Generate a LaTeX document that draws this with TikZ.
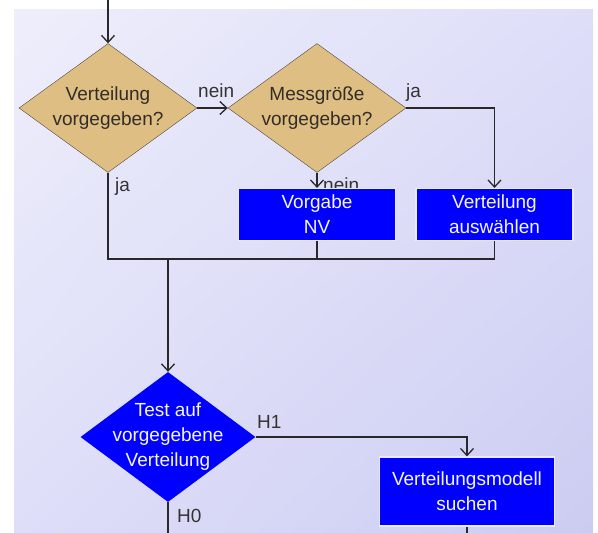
\documentclass[tikz,border=0pt]{standalone}
\usepackage{fontspec}
\setmainfont{Liberation Sans}
\usetikzlibrary{shapes.geometric,arrows.meta,shadings}

\definecolor{questionfill}{RGB}{222,190,130}
\definecolor{questionline}{RGB}{80,72,64}
\definecolor{questiontext}{RGB}{50,45,40}
\definecolor{stepblue}{RGB}{0,0,255}
\definecolor{stepline}{RGB}{235,235,255}
\definecolor{steptext}{RGB}{245,245,255}
\definecolor{linegray}{RGB}{40,40,40}
\definecolor{bgul}{RGB}{238,238,251}
\definecolor{bgur}{RGB}{222,222,249}
\definecolor{bgll}{RGB}{222,222,249}
\definecolor{bglr}{RGB}{204,204,242}

\begin{document}
\begin{tikzpicture}
[
x=1pt, y=-1pt,
font=\fontsize{19}{25}\selectfont,
question/.style={
% Shape:
diamond,
% Size, outer corners of the diamond:
minimum width=178pt,
minimum height=129pt,
inner xsep=-20pt, % so the text does not widen the diamond
inner ysep=-12pt,
% Border:
thin,
draw=questionline,
% Filling and text:
fill=questionfill,
text=questiontext,
align=center,
},
testq/.style={
% Shape:
diamond,
% Size:
minimum width=175pt,
minimum height=130pt,
inner xsep=-20pt,
inner ysep=-12pt,
% Filling and text, no border:
fill=stepblue,
text=steptext,
align=center,
},
action/.style={
% Shape:
rectangle,
% Size:
minimum width=157pt,
minimum height=52pt,
% Border:
line width=1.2pt,
draw=stepline,
% Filling and text:
fill=stepblue,
text=steptext,
align=center,
},
answer/.style={anchor=base west, inner sep=0pt, text=black!80},
flow/.style={-{Straight Barb[length=7pt,width=13pt]}, line width=1.3pt, draw=linegray},
wire/.style={line width=1.3pt, draw=linegray},
]
    \useasboundingbox (0, 0) rectangle (598, 533);
    \shade[upper left=bgul, upper right=bgur, lower left=bgll, lower right=bglr] (14, 9) rectangle (593, 533);

    \coordinate (start) at (108, 0);
    \node[question] (given) at (108, 108) {Verteilung\\vorgegeben?};
    \node[question] (size) at (317, 108) {Messgröße\\vorgegeben?};
    \node[answer] (nein2) at (323, 191) {nein};
    \node[action] (nv) at (317, 214.5) {Vorgabe\\NV};
    \node[action] (choose) at (494.5, 214.5) {Verteilung\\auswählen};
    \coordinate (merge) at (168, 259);
    \node[testq] (check) at (168, 437) {Test auf\\vorgegebene\\Verteilung};
    \node[action, minimum width=175pt, minimum height=69pt] (model) at (467, 491.5) {Verteilungsmodell\\suchen};
    \coordinate (h0end) at (168, 533);
    \coordinate (modelend) at (467, 533);

    \node[answer] (nein1) at (198, 97) {nein};
    \node[answer] (ja2) at (406, 97) {ja};
    \node[answer] (ja1) at (115, 191) {ja};
    \node[answer] (h1) at (257, 428) {H1};
    \node[answer] (h0) at (177, 522) {H0};

    \draw[flow] (start) -- (given.north);
    \draw[flow] (given.east) -- (size.west);
    \draw[flow] (size.east) -| (choose.north);
    \draw[flow] (size.south) -- (nv.north);
    \draw[wire] (given.south) |- (choose.south |- merge);
    \draw[wire] (nv.south) -- (nv.south |- merge);
    \draw[wire] (choose.south) -- (choose.south |- merge);
    \draw[flow] (merge) -- (check.north);
    \draw[flow] (check.east) -| (model.north);
    \draw[wire] (check.south) -- (h0end);
    \draw[wire] (model.south) -- (modelend);
\end{tikzpicture}
\end{document}
